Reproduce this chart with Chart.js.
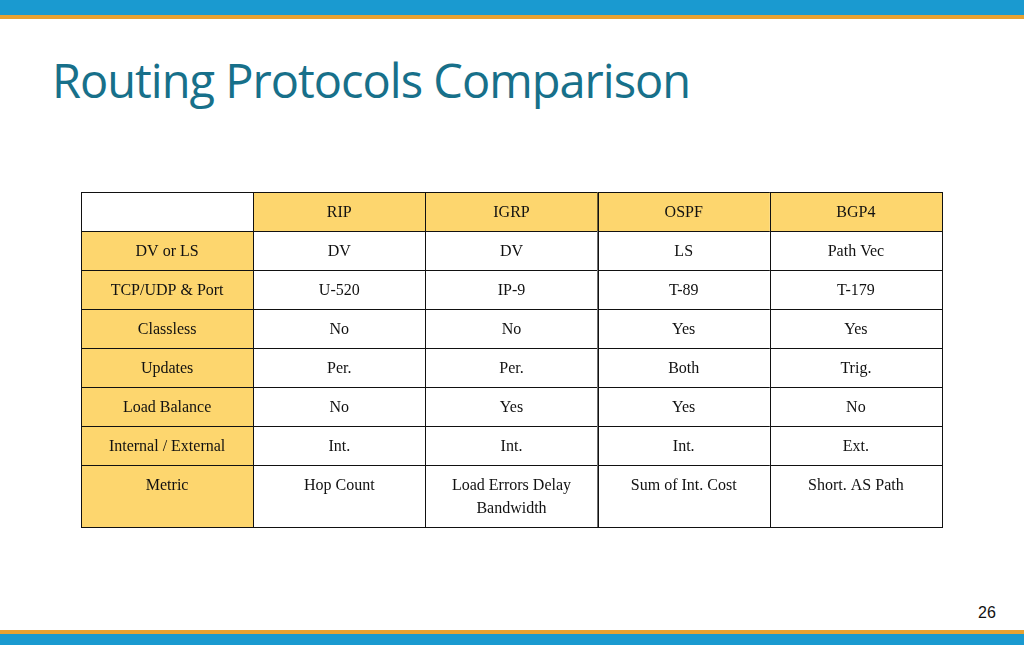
<!DOCTYPE html>
<html><head><meta charset="utf-8">
<script src="https://cdn.jsdelivr.net/npm/chart.js@4"></script>
<style>
body{margin:0;width:1024px;height:645px;position:relative;background:#fff;overflow:hidden}
.topb{position:absolute;left:0;top:0;width:1024px;height:15px;background:#1a9ad0}
.topo{position:absolute;left:0;top:15px;width:1024px;height:4px;background:#e8a232}
.boto{position:absolute;left:0;top:630px;width:1024px;height:4px;background:#e8a232}
.botb{position:absolute;left:0;top:634px;width:1024px;height:11px;background:#1a9ad0}
h1{position:absolute;left:52px;top:48px;margin:0;font:400 47px "Open Sans";color:#17708a;letter-spacing:-1px}
.pg{position:absolute;left:978px;top:604px;font:16px "Liberation Sans";color:#111}
#wrap{position:absolute;left:80px;top:191px;width:863px;height:337px}
</style></head><body>
<div class="topb"></div><div class="topo"></div>
<h1>Routing Protocols Comparison</h1>
<div id="wrap"><canvas id="c"></canvas></div>
<div class="pg">26</div><div class="boto"></div><div class="botb"></div>
<script>
// ===== TABLE DATA =====
const columns = ['', 'RIP', 'IGRP', 'OSPF', 'BGP4'];
const rowLabels = ['DV or LS', 'TCP/UDP & Port', 'Classless', 'Updates', 'Load Balance', 'Internal / External', 'Metric'];
const ripValues = ['DV', 'U-520', 'No', 'Per.', 'No', 'Int.', 'Hop Count'];
const igrpValues = ['DV', 'IP-9', 'No', 'Per.', 'Yes', 'Int.', 'Load Errors Delay\nBandwidth'];
const ospfValues = ['LS', 'T-89', 'Yes', 'Both', 'Yes', 'Int.', 'Sum of Int. Cost'];
const bgpValues = ['Path Vec', 'T-179', 'Yes', 'Trig.', 'No', 'Ext.', 'Short. AS Path'];
// row boundaries in row units (last row is taller)
const rowEdges = [0, 1, 2, 3, 4, 5, 6, 7, 8.59];

const tablePlugin = {
  id: 'table',
  afterDraw(chart) {
    const ctx = chart.ctx, xs = chart.scales.x, ys = chart.scales.y;
    const grid = [columns, ...rowLabels.map((r, i) => [r, ripValues[i], igrpValues[i], ospfValues[i], bgpValues[i]])];
    ctx.save();
    ctx.font = '16px "Liberation Serif"';
    ctx.textAlign = 'center';
    ctx.textBaseline = 'middle';
    grid.forEach((row, r) => {
      const y0 = ys.getPixelForValue(rowEdges[r]), y1 = ys.getPixelForValue(rowEdges[r + 1]);
      row.forEach((txt, c) => {
        const x0 = xs.getPixelForValue(c), x1 = xs.getPixelForValue(c + 1);
        const shaded = (r === 0 && c > 0) || (c === 0 && r > 0);
        ctx.fillStyle = shaded ? '#fdd66e' : '#ffffff';
        ctx.fillRect(x0, y0, x1 - x0, y1 - y0);
        ctx.strokeStyle = '#111';
        ctx.lineWidth = 1;
        ctx.strokeRect(Math.round(x0) + 0.5, Math.round(y0) + 0.5, Math.round(x1 - x0), Math.round(y1 - y0));
        ctx.fillStyle = '#111';
        const unit = ys.getPixelForValue(1) - ys.getPixelForValue(0);
        txt.split('\n').forEach((line, k) => {
          ctx.fillText(line, (x0 + x1) / 2, y0 + unit / 2 + 1 + k * 23);
        });
      });
    });
    ctx.restore();
  }
};

new Chart(document.getElementById('c'), {
  type: 'scatter',
  data: { datasets: [{ data: [] }] },
  options: {
    responsive: true,
    maintainAspectRatio: false,
    animation: false,
    layout: { padding: 1 },
    plugins: { legend: { display: false }, tooltip: { enabled: false } },
    scales: {
      x: { type: 'linear', min: 0, max: columns.length, display: false },
      y: { type: 'linear', min: 0, max: rowEdges[rowEdges.length - 1], reverse: true, display: false }
    }
  },
  plugins: [tablePlugin]
});
</script>
</body></html>
